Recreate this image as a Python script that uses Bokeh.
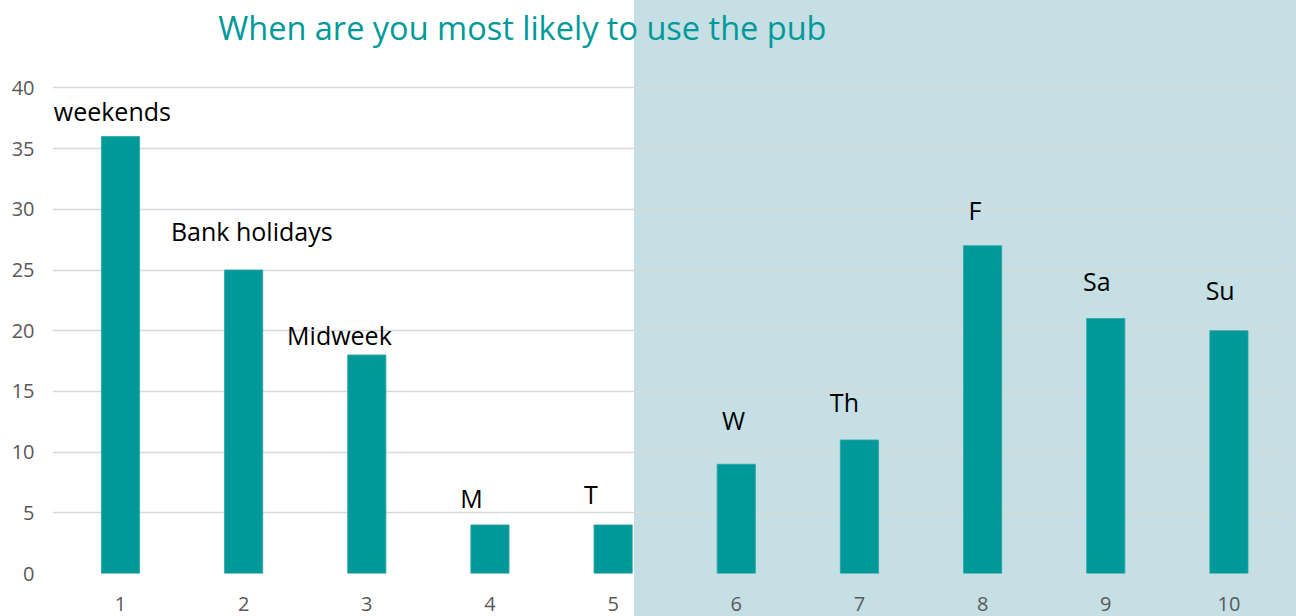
from bokeh.plotting import figure
from bokeh.models import FixedTicker, Label, LabelSet, Range1d, ColumnDataSource
from bokeh.core.properties import value
from bokeh.embed import file_html
from bokeh.resources import INLINE

title_text = "When are you most likely to use the pub"
categories = [1, 2, 3, 4, 5, 6, 7, 8, 9, 10]
values = [36, 25, 18, 4, 4, 9, 11, 27, 21, 20]
bar_labels = ["weekends", "Bank holidays", "Midweek", "M", "T", "W", "Th", "F", "Sa", "Su"]
label_x = [0.934, 2.066, 2.778, 3.851, 4.82, 5.978, 6.878, 7.937, 8.928, 9.929]
label_y = [37.26, 27.37, 18.86, 5.38, 5.74, 11.84, 13.29, 29.14, 23.31, 22.55]
y_ticks = [0, 5, 10, 15, 20, 25, 30, 35, 40]

TEAL = "#009999"
SHADE = "#c5dfe4"

p = figure(width=1296, height=616, output_backend="svg", toolbar_location=None,
           x_range=Range1d(0.448, 10.5), y_range=Range1d(0, 47.2),
           min_border_left=52, min_border_right=6, min_border_top=0, min_border_bottom=43)
p.background_fill_alpha = 0
p.border_fill_alpha = 0
p.outline_line_color = None
p.styles = {"background": f"linear-gradient(to right, #ffffff 0px, #ffffff 634px, {SHADE} 634px, {SHADE} 100%)"}

src = ColumnDataSource(dict(x=categories, top=values))
p.vbar(x="x", top="top", width=0.31, bottom=0, source=src,
       fill_color=TEAL, line_color="#2aa3a3", line_width=0.8)

lab = ColumnDataSource(dict(x=label_x, y=label_y, text=bar_labels))
p.add_layout(LabelSet(x="x", y="y", text="text", source=lab, text_align="center",
                      text_baseline="alphabetic", text_font=value("Open Sans"),
                      text_font_size=value("25px"), text_color="#000000"))

p.add_layout(Label(x=4.263, y=44.95, text=title_text, text_align="center", text_baseline="alphabetic",
                   text_font="Open Sans", text_font_size="32.5px", text_color="#00999a"))

p.xgrid.visible = False
p.ygrid.ticker = FixedTicker(ticks=y_ticks)
p.ygrid.grid_line_color = "#d9d9d9"
p.ygrid.grid_line_width = 1.5

for ax in (p.xaxis[0], p.yaxis[0]):
    ax.axis_line_color = None
    ax.major_tick_line_color = None
    ax.minor_tick_line_color = None
    ax.major_label_text_font = "Open Sans"
    ax.major_label_text_font_size = "20px"
    ax.major_label_text_color = "#595959"

p.xaxis.ticker = FixedTicker(ticks=categories)
p.xaxis.major_label_standoff = 17
p.yaxis.ticker = FixedTicker(ticks=y_ticks)
p.yaxis.major_label_standoff = 12

open("out.html", "w").write(file_html(p, INLINE))
